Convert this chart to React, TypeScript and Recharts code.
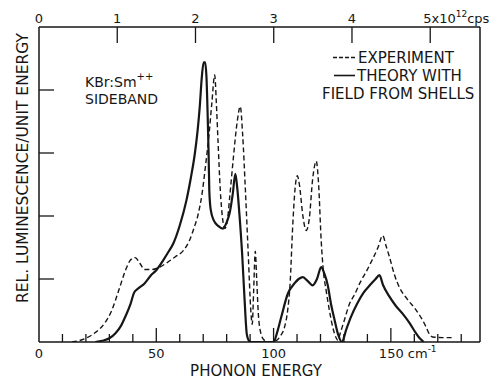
import { Line, LineChart, XAxis, YAxis } from "recharts";

const INK = "#161616";
const FONT = "'DejaVu Sans', sans-serif";
const CM_PER_1E12_CPS = 33.356;

const expEnergy = [
  14, 17, 20, 24, 28, 31, 34, 37, 39, 41, 43, 45, 48, 51, 55, 58, 61.5, 64, 66, 68, 69.5, 71, 72.5, 73.7, 74.9,
  75.6, 76.3, 77.3, 78.3, 79.2, 80.2, 81.3, 82.8, 84.5, 85.8, 86.8, 88, 89.2, 90.3, 90.9, 91.5, 92.2, 92.8, 93.5,
  94.5, 96, 98, 101, 103, 104.7, 106, 107, 108.2, 109.2, 110.1, 111, 112.5, 113.9, 115.2, 116.7, 118.2, 119.2,
  120.3, 121.3, 122.4, 123.8, 125.2, 126.5, 127.4, 128.5, 130.2, 132.3, 134.5, 137, 139.4, 142, 144.5, 146.5,
  148, 149.4, 151.5, 153.6, 157, 160.7, 163, 165, 166.5, 167.8, 172, 177,
];
const expLum = [
  0, 0.02, 0.06, 0.15, 0.3, 0.5, 0.82, 1.15, 1.3, 1.34, 1.25, 1.15, 1.15, 1.18, 1.27, 1.35, 1.45, 1.6, 1.8, 2.05,
  2.35, 2.8, 3.3, 3.8, 4.24, 3.8, 3.2, 2.4, 1.95, 1.8, 1.9, 2.3, 2.9, 3.5, 3.74, 3.3, 2.4, 1.4, 0.5, 0.28, 0.8,
  1.44, 1.0, 0.45, 0.15, 0.03, 0, 0.02, 0.1, 0.24, 0.5, 0.9, 1.87, 2.45, 2.64, 2.5, 2.0, 1.77, 1.95, 2.6, 2.87,
  2.5, 1.61, 1.1, 0.82, 0.5, 0.24, 0.08, 0.03, 0.15, 0.35, 0.6, 0.75, 0.95, 1.11, 1.3, 1.5, 1.69, 1.52, 1.35,
  1.07, 0.87, 0.68, 0.51, 0.38, 0.24, 0.12, 0.08, 0.07, 0.07,
];

const theoryEnergy = [
  24, 27, 30, 32.6, 35, 37, 39, 40.5, 42, 45, 48, 50, 53, 55, 57.2, 60, 62.8, 64.7, 66.4, 67.6, 68.5, 69.4, 70.2,
  70.8, 71.4, 71.9, 72.3, 72.6, 73.2, 74.5, 76.5, 78.4, 80, 81.3, 82.6, 83.7, 84.5, 85.5, 86.6, 87.6, 88.6, 89.5,
  90.5, 100, 101.5, 103.3, 106.1, 108.9, 110.7, 112.5, 114.5, 116.7, 118.5, 120.3, 121.5, 123.1, 124.5, 126,
  127.5, 129.1, 131, 133, 135.5, 138.3, 141, 143.5, 145.1, 146.7, 149.4, 152, 155, 158, 160.7, 162.5, 164,
];
const theoryLum = [
  0, 0.02, 0.06, 0.14, 0.26, 0.42, 0.6, 0.78, 0.84, 0.93, 1.07, 1.14, 1.3, 1.42, 1.56, 1.85, 2.24, 2.6, 2.98, 3.35,
  3.72, 4.2, 4.44, 4.44, 4.2, 3.6, 3.0, 2.4, 2.1, 1.93, 1.84, 1.8, 1.9, 2.05, 2.35, 2.67, 2.45, 2.0, 1.4, 0.7,
  0.12, 0.02, 0, 0, 0.15, 0.4, 0.77, 0.93, 1.0, 1.03, 0.97, 0.9, 1.0, 1.19, 1.1, 0.9, 0.6, 0.35, 0.12, 0, 0.2,
  0.4, 0.6, 0.78, 0.9, 1.0, 1.06, 0.9, 0.72, 0.58, 0.45, 0.3, 0.14, 0.05, 0,
];

const cmTicks = [0, 10, 20, 30, 40, 50, 60, 70, 80, 90, 100, 110, 120, 130, 140, 150, 160, 170, 180];
const cpsTicks = [0, 1, 2, 3, 4, 5];
const lumTicks = [1, 2, 3, 4];

const expData = expEnergy.map((x, i) => ({ x, y: expLum[i] }));
const theoryData = theoryEnergy.map((x, i) => ({ x, y: theoryLum[i] }));

const txt = { fontFamily: FONT, fill: INK } as const;

function BottomTick({ x, y, payload }: any) {
  const v = payload.value as number;
  const major = v % 50 === 0;
  return (
    <g>
      {v !== 0 && <line x1={x} x2={x} y1={y} y2={y - (major ? 14 : 8)} stroke={INK} strokeWidth={1.3} />}
      {major && v !== 150 && (
        <text x={x} y={y + 16} textAnchor="middle" fontSize={13} {...txt}>
          {v}
        </text>
      )}
      {v === 150 && (
        <text x={x - 12} y={y + 16} fontSize={13} {...txt}>
          150 cm<tspan dy={-6} fontSize={9}>-1</tspan>
        </text>
      )}
    </g>
  );
}

function TopTick({ x, y, payload }: any) {
  const k = Math.round((payload.value as number) / CM_PER_1E12_CPS);
  return (
    <g>
      {k !== 0 && <line x1={x} x2={x} y1={y} y2={y + 16} stroke={INK} strokeWidth={1.3} />}
      {k < 5 ? (
        <text x={x} y={y - 4} textAnchor="middle" fontSize={13} {...txt}>
          {k}
        </text>
      ) : (
        <text x={x - 7} y={y - 4} fontSize={13} {...txt}>
          5x10<tspan dy={-6} fontSize={9}>12</tspan>
          <tspan dy={6}>cps</tspan>
        </text>
      )}
    </g>
  );
}

function LeftTick({ x, y }: any) {
  return <line x1={x} x2={x + 15} y1={y} y2={y} stroke={INK} strokeWidth={1.3} />;
}

export default function App() {
  const axisLine = { stroke: INK, strokeWidth: 1.5 };
  return (
    <div style={{ position: "absolute", left: 0, top: 0, width: 499, height: 381, background: "#fff" }}>
      <LineChart width={499} height={381} margin={{ top: 0, right: 0, bottom: 0, left: 0 }}>
        <XAxis
          xAxisId="bottom"
          dataKey="x"
          type="number"
          domain={[0, 188]}
          allowDataOverflow
          ticks={cmTicks}
          interval={0}
          height={39}
          tickSize={0}
          tickMargin={0}
          axisLine={axisLine}
          tickLine={false}
          tick={<BottomTick />}
        />
        <XAxis
          xAxisId="top"
          orientation="top"
          dataKey="x"
          type="number"
          domain={[0, 188]}
          allowDataOverflow
          ticks={cpsTicks.map((k) => k * CM_PER_1E12_CPS)}
          interval={0}
          height={27}
          tickSize={0}
          tickMargin={0}
          axisLine={axisLine}
          tickLine={false}
          tick={<TopTick />}
        />
        <YAxis
          yAxisId="left"
          type="number"
          domain={[0, 5]}
          allowDataOverflow
          ticks={lumTicks}
          interval={0}
          width={39}
          tickSize={0}
          tickMargin={0}
          axisLine={axisLine}
          tickLine={false}
          tick={<LeftTick />}
        />
        <YAxis
          yAxisId="right"
          orientation="right"
          type="number"
          domain={[0, 5]}
          allowDataOverflow
          width={19}
          axisLine={axisLine}
          tickLine={false}
          tick={false}
        />
        <Line
          xAxisId="bottom"
          yAxisId="left"
          data={expData}
          dataKey="y"
          type="monotone"
          stroke={INK}
          strokeWidth={1.4}
          strokeDasharray="5 3"
          dot={false}
          isAnimationActive={false}
        />
        <Line
          xAxisId="top"
          yAxisId="right"
          data={theoryData}
          dataKey="y"
          type="monotone"
          stroke={INK}
          strokeWidth={2.2}
          dot={false}
          isAnimationActive={false}
        />
      </LineChart>
      <svg width={499} height={381} style={{ position: "absolute", left: 0, top: 0, pointerEvents: "none" }}>
        <text x={28} y={168} transform="rotate(-90 28 168)" textAnchor="middle" fontSize={15.5} {...txt}>
          REL. LUMINESCENCE/UNIT ENERGY
        </text>
        <text x={256} y={376} textAnchor="middle" fontSize={15} {...txt}>
          PHONON ENERGY
        </text>
        <text x={85} y={87} fontSize={14} {...txt}>
          KBr:Sm<tspan dy={-7} fontSize={10}>++</tspan>
        </text>
        <text x={85} y={103.5} fontSize={14} {...txt}>
          SIDEBAND
        </text>
        <line x1={333} x2={357} y1={57.5} y2={57.5} stroke={INK} strokeWidth={1.3} strokeDasharray="4 2" />
        <text x={358} y={63} fontSize={15} {...txt}>
          EXPERIMENT
        </text>
        <line x1={334} x2={355} y1={75.5} y2={75.5} stroke={INK} strokeWidth={1.6} />
        <text x={357} y={81} fontSize={15} {...txt}>
          THEORY WITH
        </text>
        <text x={322} y={99} fontSize={15} {...txt}>
          FIELD FROM SHELLS
        </text>
      </svg>
    </div>
  );
}
